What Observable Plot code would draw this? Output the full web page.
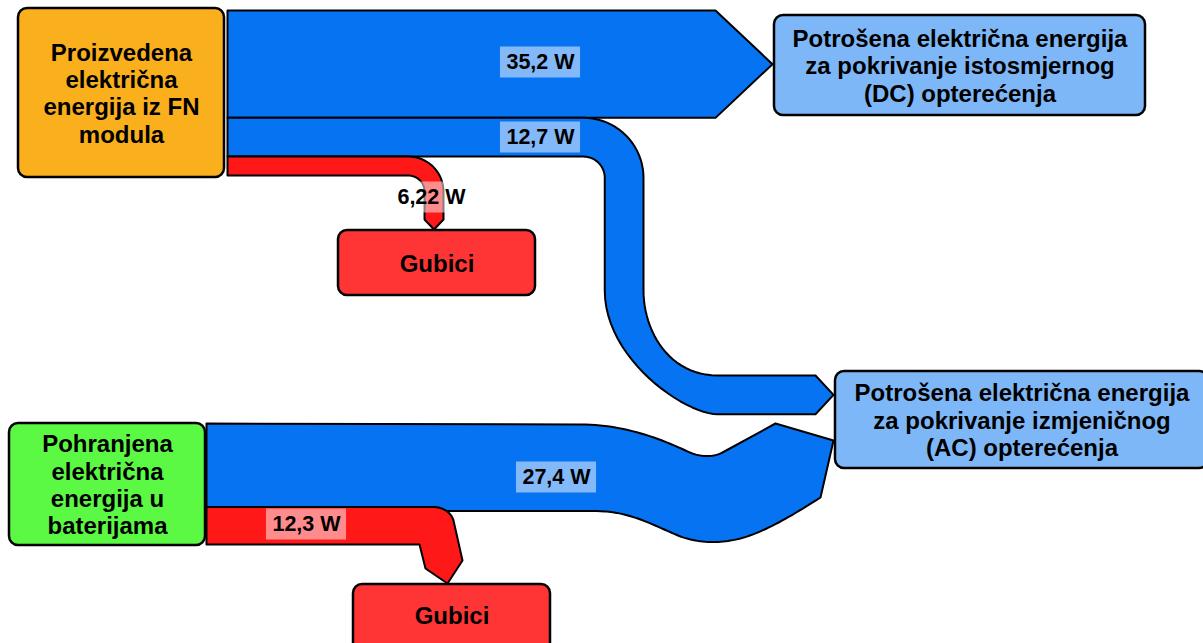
<!DOCTYPE html>
<html>
<head>
<meta charset="utf-8">
<script src="https://cdn.jsdelivr.net/npm/d3@7"></script>
<script src="https://cdn.jsdelivr.net/npm/@observablehq/plot@0.6"></script>
<style>
  html, body { margin: 0; padding: 0; background: #fff; overflow: hidden; }
  #chart svg { display: block; }
</style>
</head>
<body>
<div id="chart"></div>
<script>
// ---------- DATA ----------
const nodeIds = ["FN", "DC", "AC", "BAT", "G1", "G2"];
const nodeNames = [
  "Proizvedena\nelektrična\nenergija iz FN\nmodula",
  "Potrošena električna energija\nza pokrivanje istosmjernog\n(DC) opterećenja",
  "Potrošena električna energija\nza pokrivanje izmjeničnog\n(AC) opterećenja",
  "Pohranjena\nelektrična\nenergija u\nbaterijama",
  "Gubici",
  "Gubici"
];
const flowSources = ["FN", "FN", "FN", "BAT", "BAT"];
const flowTargets = ["DC", "AC", "G1", "AC", "G2"];
const flowValues = [35.2, 12.7, 6.22, 27.4, 12.3];
const flowLabels = ["35,2 W", "12,7 W", "6,22 W", "27,4 W", "12,3 W"];

// ---------- LAYOUT & STYLE ----------
const K = 3.05; // px per W
const boxLayout = {
  FN: {x1: 18, x2: 224, y1: 8, y2: 177, fill: "#FAAF1C"},
  DC: {x1: 774, x2: 1145, y1: 15, y2: 115, fill: "#7EB7F7"},
  AC: {x1: 835, x2: 1208, y1: 371, y2: 468, fill: "#7EB7F7"},
  BAT: {x1: 9, x2: 205, y1: 423, y2: 545, fill: "#5BF944"},
  G1: {x1: 338, x2: 535, y1: 230, y2: 295, fill: "#FF3535"},
  G2: {x1: 353, x2: 550, y1: 584, y2: 652, fill: "#FF3535"}
};
const flowColor = {DC: "#0673F2", AC: "#0673F2", G1: "#FF1818", G2: "#FF1818"};
const labelPos = [[540, 62], [540, 137], [431, 197], [556, 477], [306, 524]];

// path sampler
function Path() {
  const pts = []; let cur = [0, 0];
  const api = {
    M(x, y) { pts.push([x, y]); cur = [x, y]; return api; },
    L(x, y) { pts.push([x, y]); cur = [x, y]; return api; },
    C(x1, y1, x2, y2, x, y) {
      const [x0, y0] = cur, N = 24;
      for (let i = 1; i <= N; i++) {
        const t = i / N, u = 1 - t;
        pts.push([u*u*u*x0 + 3*u*u*t*x1 + 3*u*t*t*x2 + t*t*t*x,
                  u*u*u*y0 + 3*u*u*t*y1 + 3*u*t*t*y2 + t*t*t*y]);
      }
      cur = [x, y]; return api;
    },
    A(cx, cy, r, a0, a1) {
      const N = 20;
      for (let i = 0; i <= N; i++) {
        const a = (a0 + (a1 - a0) * i / N) * Math.PI / 180;
        pts.push([cx + r * Math.cos(a), cy + r * Math.sin(a)]);
      }
      cur = pts[pts.length - 1]; return api;
    },
    pts
  };
  return api;
}

const w = flowValues.map(v => v * K);
const fn = boxLayout.FN, bat = boxLayout.BAT;
const x0 = fn.x2 + 3, xb0 = bat.x2 + 1;
const shapes = [];

// Flow 0: FN -> DC
{
  const y0 = 10, y1 = y0 + w[0];
  shapes.push(Path().M(x0, y0).L(715, y0).L(772, (y0 + y1) / 2).L(715, y1).L(x0, y1).pts);
}
// Flow 1: FN -> AC
let yB0 = 10 + w[0];
{
  const yB1 = yB0 + w[1], R = 60, cx = 583, cy = yB0 + R, xo = cx + R, xi = xo - w[1];
  const yt = 375, yb = yt + w[1];
  shapes.push(Path()
    .M(x0, yB0).L(cx, yB0).A(cx, cy, R, -90, 0).L(xo, 290)
    .C(xo, 331, 669, yt, 717, yt).L(815, yt).L(833, (yt + yb) / 2).L(815, yb).L(717, yb)
    .C(685, yb, xi, 359, xi, 290).L(xi, cy).A(cx, cy, R - w[1], 0, -90).L(x0, yB1).pts);
}
// Flow 2: FN -> G1
{
  const yc0 = yB0 + w[1], yc1 = yc0 + w[2], R = 35, cx = 408, cy = yc0 + R, xo = cx + R, xi = xo - w[2];
  shapes.push(Path()
    .M(x0, yc0).L(cx, yc0).A(cx, cy, R, -90, 0).L(xo, 219).L((xo + xi) / 2, 229).L(xi, 219)
    .L(xi, cy).A(cx, cy, R - w[2], 0, -90).L(x0, yc1).pts);
}
// Flow 3: BAT -> AC
const yd0 = 423;
{
  const yBot = yd0 + w[3] + 4;
  shapes.push(Path()
    .M(xb0, yd0).L(580, yd0 + 1).C(620, yd0 + 1, 655, 436, 685, 450).C(697, 456, 710, 458, 722, 452)
    .L(775, 423).L(833, 440).L(820, 497)
    .C(790, 516, 765, 531, 740, 538).C(720, 543, 700, 543, 680, 536).C(655, 526, 630, yBot, 596, yBot)
    .L(xb0, yBot).pts);
}
// Flow 4: BAT -> G2
{
  const ye0 = yd0 + w[3], ye1 = ye0 + w[4];
  shapes.push(Path()
    .M(xb0, ye0).L(433, ye0).C(443, ye0, 451, ye0 + 6, 453, 520).L(462, 560).L(447, 583).L(425, 568)
    .L(419, ye1).L(xb0, ye1).pts);
}

// label boxes
const FONT = "'Liberation Sans', Arial, Helvetica, sans-serif";
const ctx = document.createElement("canvas").getContext("2d");
ctx.font = `bold 21.5px ${FONT}`;
const labelData = flowLabels.map((t, i) => ({
  text: t, x: labelPos[i][0], y: labelPos[i][1], tw: ctx.measureText(t).width
}));

const nodeData = nodeIds.map((id, i) => ({id, name: nodeNames[i], ...boxLayout[id]}));

const marks = [];
shapes.forEach((pts, i) => {
  marks.push(Plot.line(pts, {
    x: d => d[0], y: d => d[1], curve: "linear-closed",
    fill: flowColor[flowTargets[i]], stroke: "black", strokeWidth: 2, strokeLinejoin: "round"
  }));
});
marks.push(Plot.rect(nodeData, {
  x1: "x1", x2: "x2", y1: "y1", y2: "y2", fill: d => d.fill, rx: 9,
  stroke: "black", strokeWidth: 2.5
}));
marks.push(Plot.text(nodeData, {
  x: d => (d.x1 + d.x2) / 2, y: d => (d.y1 + Math.min(d.y2, 646)) / 2 , text: "name",
  fontSize: 24, fontWeight: "bold", fontFamily: FONT, lineHeight: 1.14,
  lineAnchor: "middle", textAnchor: "middle", fill: "black"
}));
marks.push(Plot.rect(labelData, {
  x1: d => d.x - d.tw / 2 - 6, x2: d => d.x + d.tw / 2 + 6, y1: d => d.y - 15.5, y2: d => d.y + 15.5,
  fill: "white", fillOpacity: 0.5
}));
marks.push(Plot.text(labelData, {
  x: "x", y: "y", text: "text", fontSize: 21.5, fontWeight: "bold", fontFamily: FONT,
  lineAnchor: "middle", textAnchor: "middle", fill: "black"
}));

const chart = Plot.plot({
  width: 1203, height: 643, margin: 0,
  x: {type: "linear", domain: [0, 1203], range: [0, 1203], axis: null},
  y: {type: "linear", domain: [0, 643], range: [0, 643], axis: null},
  style: {background: "white", overflow: "hidden"},
  marks
});
document.getElementById("chart").append(chart);
</script>
</body>
</html>
